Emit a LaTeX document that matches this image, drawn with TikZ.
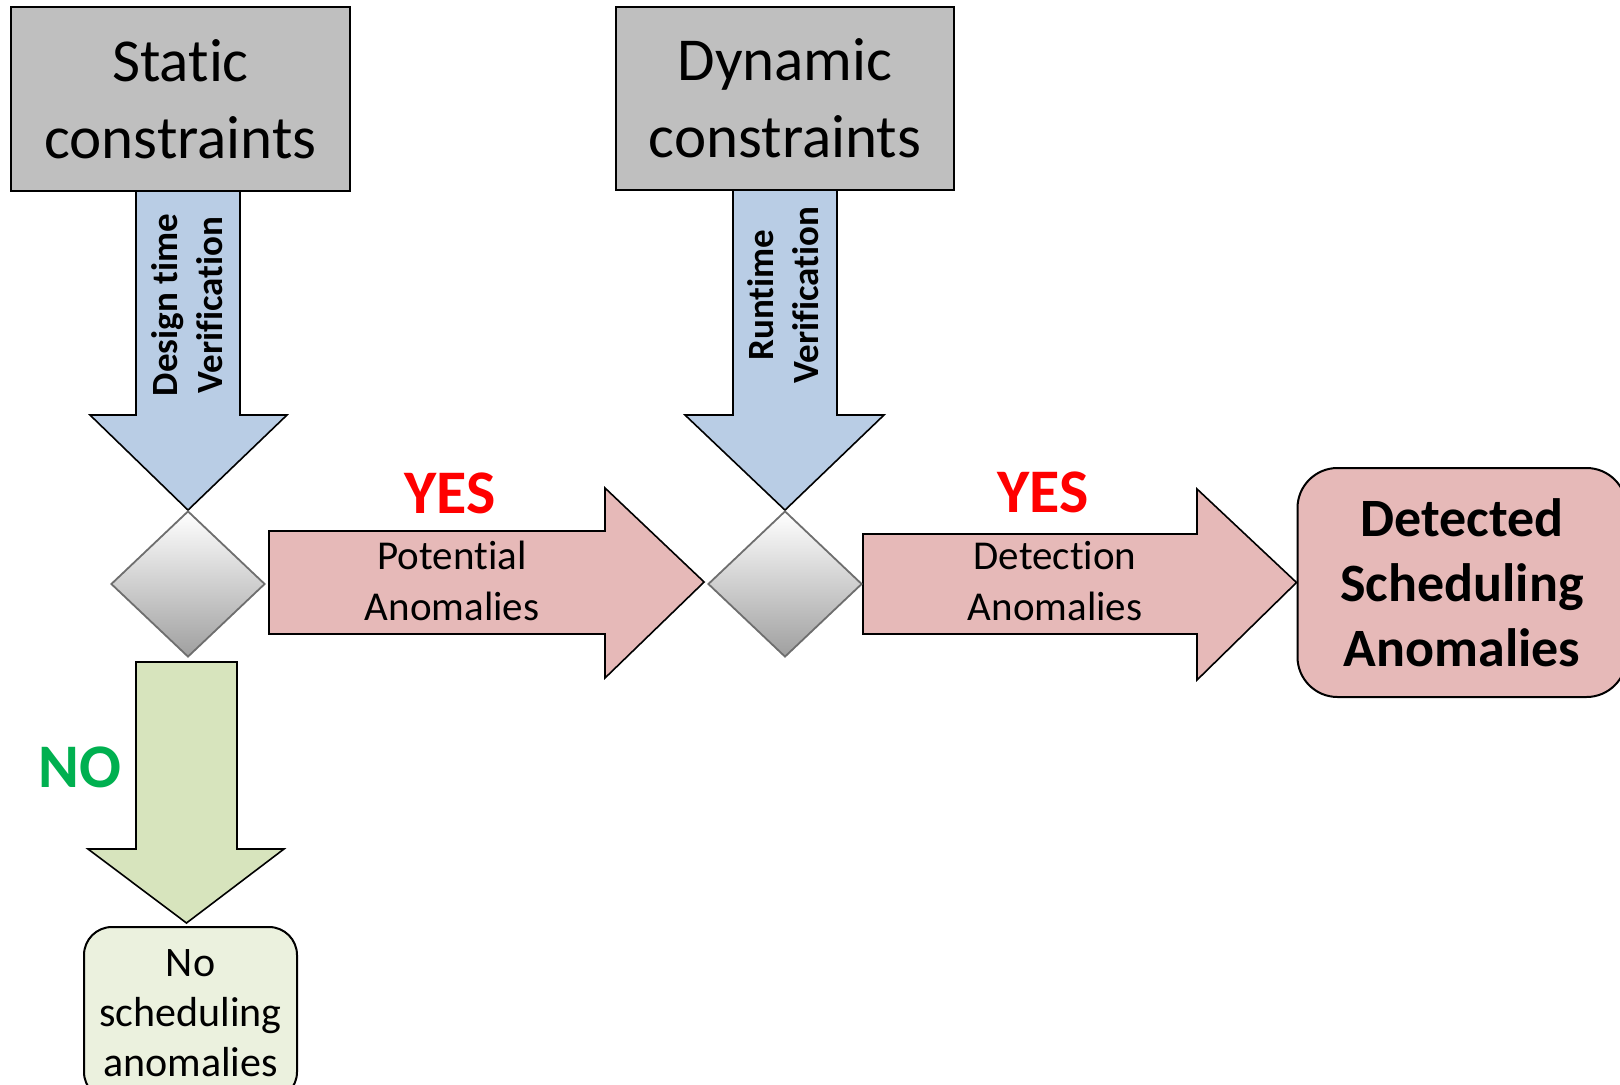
\documentclass[tikz,border=0pt]{standalone}
\usepackage{fontspec}
\setmainfont{Carlito}[Ligatures=NoCommon]
\usetikzlibrary{shapes.geometric,calc}
\definecolor{boxgray}{HTML}{BFBFBF}
\definecolor{flowblue}{HTML}{B9CDE5}
\definecolor{flowpink}{HTML}{E6B9B8}
\definecolor{flowgreen}{HTML}{D7E4BD}
\definecolor{palegreen}{HTML}{EBF1DE}
\definecolor{yesred}{HTML}{FF0000}
\definecolor{nogreen}{HTML}{00B050}
\definecolor{diamondedge}{HTML}{6E6E6E}
\pgfdeclarelayer{background}
\pgfsetlayers{background,main}
\tikzset{
  constraintbox/.style={draw, line width=1pt, fill=boxgray, inner sep=0pt, align=center,
    font=\fontsize{30.5}{38.5}\selectfont},
  decision/.style={diamond, draw=diamondedge, line width=0.9pt, inner sep=0pt,
    top color=white, bottom color=gray!75},
  blockblue/.style={draw=black, line width=0.8pt, fill=flowblue, line join=miter},
  blockpink/.style={draw=black, line width=0.8pt, fill=flowpink, line join=miter},
  blockgreen/.style={draw=black, line width=0.8pt, fill=flowgreen, line join=miter},
  arrowtext/.style={align=center, inner sep=0pt, font=\fontsize{20.5}{25.5}\selectfont},
  verttext/.style={align=center, inner sep=0pt, rotate=90, font=\bfseries\fontsize{18.5}{22.5}\selectfont},
  answer/.style={inner sep=0pt, font=\bfseries\fontsize{31}{37}\selectfont},
  outcome/.style={draw, line width=1pt, align=center, inner sep=0pt}
}
\begin{document}
\begin{tikzpicture}[x=0.5pt, y=-0.5pt]
  \path[use as bounding box] (0,0) rectangle (1620,1085);
  \clip (0,0) rectangle (1620,1085);

  % sources
  \node[constraintbox, minimum width=169.5pt, minimum height=92pt] (static) at (180.5,99) {Static\\constraints};
  \node[constraintbox, minimum width=169pt, minimum height=91.5pt] (dynamic) at (785,98.5) {Dynamic\\constraints};

  % decisions
  \node[decision, minimum width=77pt, minimum height=73pt] (d1) at (188,584) {};
  \node[decision, minimum width=77pt, minimum height=73pt] (d2) at (785,584) {};

  % outcomes
  \node[outcome, fill=flowpink, rounded corners=20pt, minimum width=164.5pt, minimum height=114.5pt,
        font=\bfseries\fontsize{27}{32.5}\selectfont] (det) at (1462,582.5) {Detected\\Scheduling\\Anomalies};
  \node[outcome, fill=palegreen, rounded corners=14pt, minimum width=106.5pt, minimum height=86.5pt,
        font=\fontsize{21}{25}\selectfont] (nobox) at (190.5,1013.5) {No\\scheduling\\anomalies};

  % block arrows
  \begin{pgfonlayer}{background}
    \filldraw[blockblue] (136,191) -- (136,415) -- (90,415) -- (d1.north) -- (287,415) -- (240,415) -- (240,191);
    \filldraw[blockblue] (733,190) -- (733,415) -- (685,415) -- (d2.north) -- (884,415) -- (837,415) -- (837,190);
    \filldraw[blockpink] (269,531) -- (605,531) -- (605,488) -- ($(d2.west)+(-3,-2)$) -- (605,678) -- (605,634) -- (269,634) -- cycle;
    \filldraw[blockpink] (863,534) -- (1197,534) -- (1197,489) -- (det.west) -- (1197,680) -- (1197,634) -- (863,634) -- cycle;
    \filldraw[blockgreen] (136,662) -- (136,849) -- (88,849) -- ($(nobox.north)+(-4,-3)$) -- (284,849) -- (237,849) -- (237,662) -- cycle;
  \end{pgfonlayer}

  % arrow labels
  \node[verttext] (dtv) at (187,305) {Design time\\Verification};
  \node[verttext] (rtv) at (783,295) {Runtime\\Verification};
  \node[arrowtext] (pot) at (452,581) {Potential\\Anomalies};
  \node[arrowtext] (dan) at (1055,581) {Detection\\Anomalies};
  \node[answer, text=yesred] (yes1) at (450,493) {YES};
  \node[answer, text=yesred] (yes2) at (1043,492) {YES};
  \node[answer, text=nogreen] (no) at (80,767) {NO};
\end{tikzpicture}
\end{document}
